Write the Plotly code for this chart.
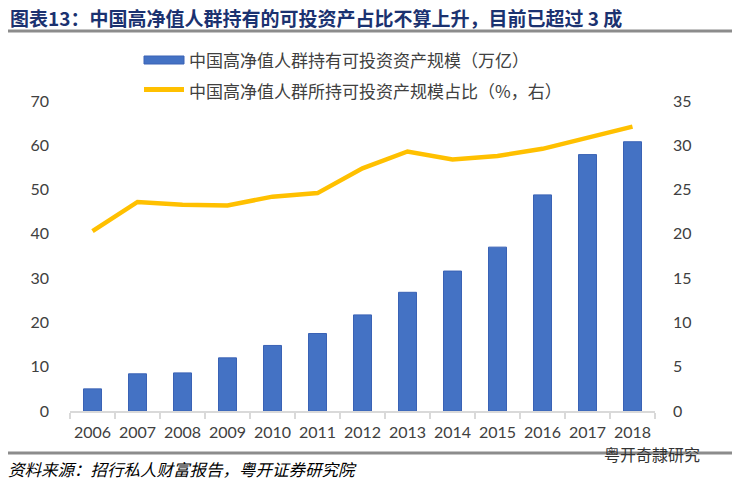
import plotly.graph_objects as go

years = ["2006", "2007", "2008", "2009", "2010", "2011", "2012",
         "2013", "2014", "2015", "2016", "2017", "2018"]
assets_trillion = [5.0, 8.4, 8.6, 12.0, 14.8, 17.5, 21.7,
                   26.8, 31.6, 37.0, 48.8, 57.9, 60.8]
share_pct = [20.3, 23.6, 23.3, 23.2, 24.2, 24.6, 27.4,
             29.3, 28.4, 28.8, 29.6, 30.9, 32.1]
left_ticks = [0, 10, 20, 30, 40, 50, 60, 70]
right_ticks = [0, 5, 10, 15, 20, 25, 30, 35]

title_text = "图表13：中国高净值人群持有的可投资产占比不算上升，目前已超过 3 成"
bar_name = "中国高净值人群持有可投资资产规模（万亿）"
line_name = "中国高净值人群所持可投资产规模占比（%，右）"
source_text = "资料来源：招行私人财富报告，粤开证券研究院"
watermark = "粤开奇隷研究"

W, H = 732, 484
L, R, T, B = 70, 77, 101, 73
PW, PH = W - L - R, H - T - B

def px(x):
    return (x - L) / PW

def py(y):
    return (H - B - y) / PH

CJK = "Noto Sans CJK SC"
NUM = "Lato"
BLUE = "#4472C4"
GOLD = "#FFC000"
GREY_TXT = "#404040"

fig = go.Figure()
fig.add_trace(go.Bar(
    x=years, y=assets_trillion, name=bar_name,
    marker=dict(color=BLUE, line=dict(color="#3A62B5", width=1)),
    showlegend=False, yaxis="y",
))
fig.add_trace(go.Scatter(
    x=years, y=share_pct, name=line_name, mode="lines",
    line=dict(color=GOLD, width=4.5),
    showlegend=False, yaxis="y2",
))

shapes = [
    dict(type="line", xref="paper", yref="paper", x0=px(8), x1=px(732),
         y0=py(31), y1=py(31), line=dict(color="#8C8C8C", width=3)),
    dict(type="line", xref="paper", yref="paper", x0=px(8), x1=px(732),
         y0=py(453), y1=py(453), line=dict(color="#8C8C8C", width=3)),
    dict(type="rect", xref="paper", yref="paper", x0=px(144), x1=px(184),
         y0=py(56), y1=py(64), fillcolor=BLUE, line=dict(color="#3A62B5", width=1)),
    dict(type="line", xref="paper", yref="paper", x0=px(144), x1=px(184),
         y0=py(89.5), y1=py(89.5), line=dict(color=GOLD, width=5)),
]

annotations = [
    dict(text="<b>" + title_text + "</b>", xref="paper", yref="paper",
         x=px(8), y=py(18), xanchor="left", yanchor="middle", showarrow=False,
         font=dict(family=CJK, size=19, color="#1B3270")),
    dict(text=bar_name, xref="paper", yref="paper",
         x=px(187), y=py(60), xanchor="left", yanchor="middle", showarrow=False,
         font=dict(family=CJK, size=17, color=GREY_TXT)),
    dict(text=line_name, xref="paper", yref="paper",
         x=px(187), y=py(90), xanchor="left", yanchor="middle", showarrow=False,
         font=dict(family=CJK, size=17, color=GREY_TXT)),
    dict(text="<i>" + source_text + "</i>", xref="paper", yref="paper",
         x=px(6), y=py(469), xanchor="left", yanchor="middle", showarrow=False,
         font=dict(family=CJK, size=16.5, color="#000000")),
    dict(text=watermark, xref="paper", yref="paper",
         x=px(603), y=py(454), xanchor="left", yanchor="middle", showarrow=False,
         borderpad=0,
         font=dict(family=CJK, size=16, color="#333333")),
]

fig.update_layout(
    width=W, height=H,
    margin=dict(l=L, r=R, t=T, b=B, pad=0),
    paper_bgcolor="white", plot_bgcolor="white",
    bargap=0.6,
    showlegend=False,
    shapes=shapes,
    annotations=annotations,
    xaxis=dict(
        type="category",
        showline=True, linecolor="#D9D9D9", linewidth=2,
        ticks="outside", tickson="boundaries", ticklen=6, tickcolor="#D9D9D9",
        tickwidth=2, showgrid=False, zeroline=False, tickangle=0,
        tickfont=dict(family=NUM, size=16, color=GREY_TXT),
        ticklabelstandoff=6,
    ),
    yaxis=dict(
        range=[0, 70], tickvals=left_ticks, showgrid=False, zeroline=False,
        showline=False, ticks="",
        tickfont=dict(family=NUM, size=16, color=GREY_TXT),
        ticklabelstandoff=20,
    ),
    yaxis2=dict(
        range=[0, 35], tickvals=right_ticks, overlaying="y", side="right",
        showgrid=False, zeroline=False, showline=False, ticks="",
        tickfont=dict(family=NUM, size=16, color=GREY_TXT),
        ticklabelstandoff=17,
    ),
)

fig.write_html(
    "out.html",
    config={"displayModeBar": False},
    post_script="document.body.style.margin='0';document.body.style.padding='0';",
)
